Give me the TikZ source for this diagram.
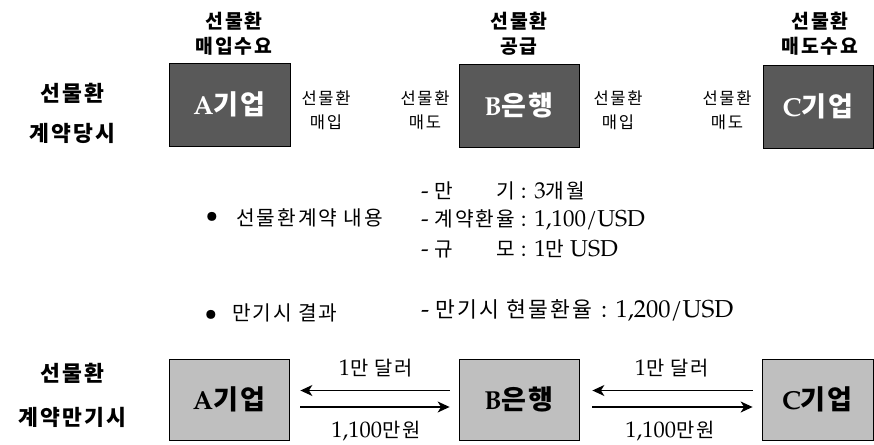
\documentclass[tikz,border=0pt]{standalone}
\usepackage{fontspec}
\usepackage{calc}
\setmainfont{TeX Gyre Pagella}
\newfontfamily\kr[Scale=0.88,LetterSpace=10]{Noto Sans CJK KR}
\newfontfamily\krbig[Scale=1.04,LetterSpace=8]{Noto Sans CJK KR}
\newcommand\K[1]{{\kr #1}}
\newcommand\KB[1]{{\krbig #1}}
\usetikzlibrary{arrows.meta}
\definecolor{darkbox}{HTML}{595959}
\definecolor{lightbox}{HTML}{BFBFBF}
\tikzset{
  firm/.style={draw=black, line width=0.8pt, inner sep=0pt,
    font=\bfseries\fontsize{26}{29}\selectfont},
  darkfirm/.style={firm, fill=darkbox, text=white},
  lightfirm/.style={firm, fill=lightbox, text=black},
  rolelbl/.style={align=center, inner sep=0pt, font=\kr\bfseries\fontsize{22}{25}\selectfont},
  phaselbl/.style={align=center, inner sep=0pt, font=\kr\bfseries\fontsize{24.5}{40}\selectfont},
  sidelbl/.style={align=center, inner sep=0pt, font=\kr\fontsize{18.8}{24}\selectfont},
  bodytxt/.style={anchor=west, inner sep=0pt, font=\fontsize{23}{26}\selectfont},
  flowlbl/.style={inner sep=0pt, font=\fontsize{22.5}{26}\selectfont},
  flow/.style={line width=1.4pt, -{Stealth[length=12pt,width=11pt,inset=3.5pt]}}
}
\begin{document}
\begin{tikzpicture}[x=1pt,y=-1pt]
\useasboundingbox (0,0) rectangle (874,444);

% ---- top row: at contract time
\node[phaselbl] (phase1) at (72,113) {선물환\\계약당시};
\node[rolelbl] (roleA) at (234,33.5) {선물환\\매입수요};
\node[rolelbl] (roleB) at (519,33.5) {선물환\\공급};
\node[rolelbl] (roleC) at (820,33.5) {선물환\\매도수요};

\node[darkfirm, minimum width=121pt, minimum height=83pt] (At) at (229.5,104.5) {A\KB{기업}};
\node[darkfirm, minimum width=120pt, minimum height=83pt] (Bt) at (519,105.5) {B\KB{은행}};
\node[darkfirm, minimum width=110pt, minimum height=83pt] (Ct) at (818,106.5) {C\KB{기업}};

\node[sidelbl] (s1) at (326,110) {선물환\\매입};
\node[sidelbl] (s2) at (425,110) {선물환\\매도};
\node[sidelbl] (s3) at (618,110) {선물환\\매입};
\node[sidelbl] (s4) at (727,110) {선물환\\매도};

% ---- middle text
\node[flowlbl] (b1) at (212,217) {\textbullet};
\node[bodytxt] (c1) at (236,218) {\K{선물환계약 내용}};
\node[bodytxt] (l1) at (421,191) {- {\kr\makebox[\widthof{계약환율}][s]{만\hfill 기}} : 3\K{개월}};
\node[bodytxt] (l2) at (421,220) {- \K{계약환율} : 1,100/USD};
\node[bodytxt] (l3) at (421,249) {- {\kr\makebox[\widthof{계약환율}][s]{규\hfill 모}} : 1\K{만} USD};

\node[flowlbl] (b2) at (211,315) {\textbullet};
\node[bodytxt] (c2) at (232,313) {\K{만기시}\hspace{6pt}\K{결과}};
\node[bodytxt, font=\fontsize{24.5}{28}\selectfont] (l4) at (421,310) {- \K{만기시}\hspace{7pt}\K{현물환율}\hspace{3pt} : 1,200/USD};

% ---- bottom row: at maturity
\node[phaselbl, font=\kr\bfseries\fontsize{24.5}{44}\selectfont] (phase2) at (72,395) {선물환\\계약만기시};

\node[lightfirm, minimum width=120pt, minimum height=81pt] (Ab) at (229,399.5) {A\KB{기업}};
\node[lightfirm, minimum width=120pt, minimum height=81pt] (Bb) at (519,399.5) {B\KB{은행}};
\node[lightfirm, minimum width=111pt, minimum height=81pt] (Cb) at (817.5,399.5) {C\KB{기업}};

\draw[flow, shorten <=9pt, shorten >=11pt] ([yshift=9pt]Bb.west) -- ([yshift=9pt]Ab.east);
\draw[flow, shorten <=11pt, shorten >=9pt] ([yshift=-7.5pt]Ab.east) -- ([yshift=-7.5pt]Bb.west);
\draw[flow, shorten <=9pt, shorten >=13pt] ([yshift=9pt]Cb.west) -- ([yshift=9pt]Bb.east);
\draw[flow, shorten <=13pt, shorten >=9pt] ([yshift=-7.5pt]Bb.east) -- ([yshift=-7.5pt]Cb.west);

\node[flowlbl] (u1) at (376,368) {1\K{만 달러}};
\node[flowlbl] (w1) at (376,431) {1,100\K{만원}};
\node[flowlbl] (u2) at (672,368) {1\K{만 달러}};
\node[flowlbl] (w2) at (670,431) {1,100\K{만원}};
\end{tikzpicture}
\end{document}
